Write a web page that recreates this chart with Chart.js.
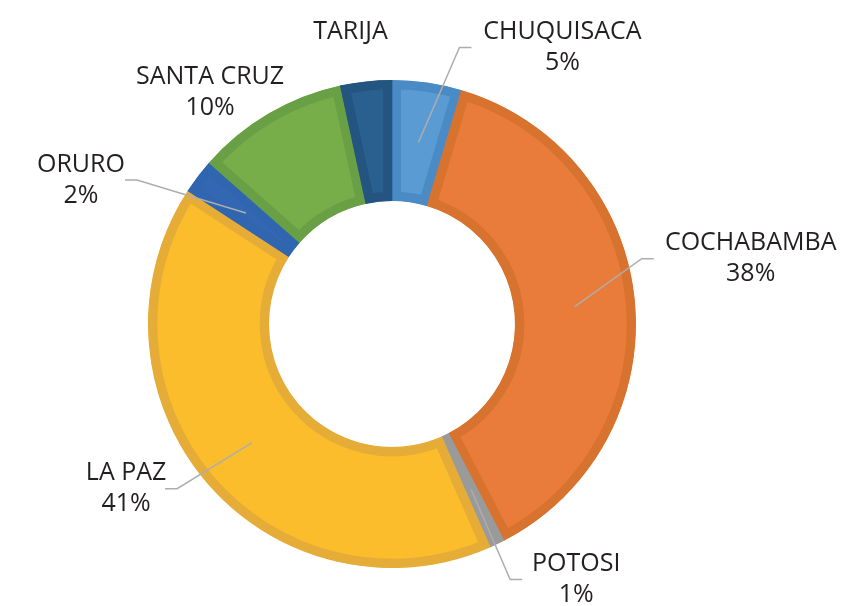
<!DOCTYPE html>
<html>
<head>
<meta charset="utf-8">
<script src="https://cdn.jsdelivr.net/npm/chart.js@4.4.1/dist/chart.umd.min.js"></script>
<style>
  html, body { margin: 0; padding: 0; background: #fff; }
  #wrap { width: 845px; height: 606px; }
</style>
</head>
<body>
<div id="wrap"><canvas id="donut" width="845" height="606"></canvas></div>
<script>
const regions = ['CHUQUISACA', 'COCHABAMBA', 'POTOSI', 'LA PAZ', 'ORURO', 'SANTA CRUZ', 'TARIJA'];
const shares = [4.6, 37.8, 1.0, 40.8, 2.3, 10.1, 3.4];
const showPercent = [true, true, true, true, true, true, false];

const fills = ['#5B9BD3', '#E97C3A', '#9D9D9D', '#FBBD2C', '#3367B3', '#77AE4A', '#2A6090'];
const edges = ['#4A8BC5', '#D7722F', '#9A9A9A', '#E5AC37', '#3066B0', '#69A045', '#245480'];

// label placement, relative to the arc centre point: elbow of leader line, then text centre
const labelLayout = [
    { elbow: [41, -95], text: [103, 0] },
    { elbow: [67, -48], text: [109, 0] },
    { elbow: [39, 90], text: [66, 0] },
    { elbow: [-75, 46], text: [-51, 0] },
    { elbow: [-109, -33], text: [-56, 0] },
    { elbow: null, text: [-89, -73] },
    { elbow: null, text: [-22, -110] }
];

const calloutPlugin = {
    id: 'callouts',
    afterDatasetsDraw(chart) {
        const ctx = chart.ctx;
        const arcs = chart.getDatasetMeta(0).data;
        const total = shares.reduce((a, b) => a + b, 0);
        ctx.save();
        arcs.forEach((arc, i) => {
            const p = arc.getCenterPoint();
            const lay = labelLayout[i];
            let tx, ty;
            if (lay.elbow) {
                const ex = p.x + lay.elbow[0];
                const ey = p.y + lay.elbow[1];
                const dir = lay.text[0] >= 0 ? 1 : -1;
                ctx.beginPath();
                ctx.moveTo(p.x, p.y);
                ctx.lineTo(ex, ey);
                ctx.lineTo(ex + dir * 12, ey);
                ctx.strokeStyle = '#ADADAD';
                ctx.lineWidth = 1.5;
                ctx.stroke();
                tx = ex + lay.text[0];
                ty = ey + lay.text[1];
            } else {
                tx = p.x + lay.text[0];
                ty = p.y + lay.text[1];
            }
            ctx.fillStyle = '#231F20';
            ctx.font = '25px "Open Sans"';
            ctx.textAlign = 'center';
            ctx.textBaseline = 'middle';
            if (showPercent[i]) {
                ctx.fillText(regions[i], tx, ty - 15.5);
                ctx.fillText(Math.round(shares[i] / total * 100) + '%', tx, ty + 15.5);
            } else {
                ctx.fillText(regions[i], tx, ty);
            }
        });
        ctx.restore();
    }
};

new Chart(document.getElementById('donut'), {
    type: 'doughnut',
    data: {
        labels: regions,
        datasets: [{
            data: shares,
            backgroundColor: fills,
            borderColor: edges,
            borderWidth: 9,
            borderAlign: 'inner',
            borderJoinStyle: 'round',
            hoverOffset: 0
        }]
    },
    options: {
        responsive: false,
        animation: false,
        events: [],
        cutout: '50.4%',
        layout: {
            padding: { left: 148, top: 80, right: 209, bottom: 38 }
        },
        plugins: {
            legend: { display: false },
            tooltip: { enabled: false }
        }
    },
    plugins: [calloutPlugin]
});
</script>
</body>
</html>
